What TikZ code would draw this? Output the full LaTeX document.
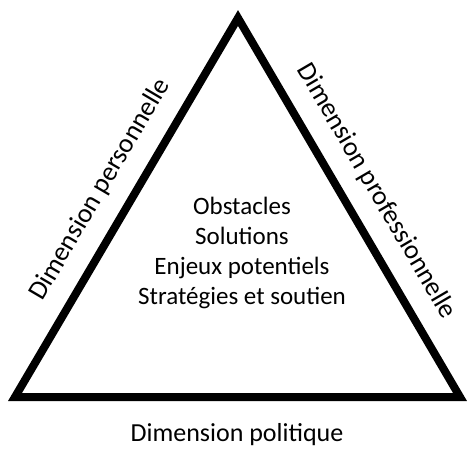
\documentclass[tikz,border=0pt]{standalone}
\usepackage{fontspec}
\setmainfont{Carlito}
\usetikzlibrary{positioning,calc}

\begin{document}
\begin{tikzpicture}[x=1pt,y=1pt,font=\fontsize{25}{30}\selectfont]
\tikzset{side/.style={line width=8pt,line join=miter},
         dim/.style={sloped,above=20pt,inner sep=0pt,font=\fontsize{27}{32}\selectfont}}
\useasboundingbox (0,0) rectangle (468,448);
  \coordinate (top) at (238,430);
  \coordinate (left) at (15,51);
  \coordinate (right) at (460,51);
  \draw[side] (left) -- (top) -- (right) -- cycle;
  \path (left) -- (top) node[dim,pos=0.505] (perso) {Dimension personnelle};
  \path (top) -- (right) node[dim,pos=0.5] (pro) {Dimension professionnelle};
  \node[font=\fontsize{26}{30}\selectfont] (poli) at (237,13) {Dimension politique};
  \node[align=center] (centre) at (242,195)
       {Obstacles\\ Solutions\\ Enjeux potentiels\\ Stratégies et soutien};
\end{tikzpicture}
\end{document}
